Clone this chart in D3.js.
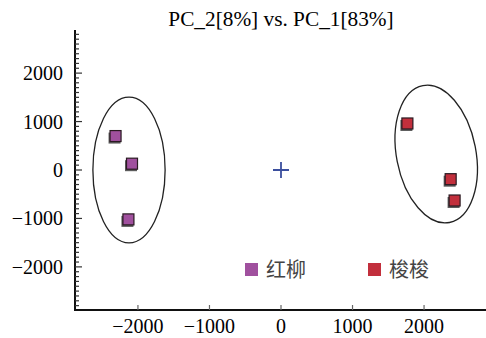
<!DOCTYPE html>
<html>
<head>
<meta charset="utf-8">
<script src="https://cdn.jsdelivr.net/npm/d3@7"></script>
<style>
  body { margin: 0; background: #fff; }
  svg { display: block; }
</style>
</head>
<body>
<div id="chart"></div>
<script>
const title = 'PC_2[8%] vs. PC_1[83%]';
const groups = ['红柳', '梭梭'];
const groupColors = ['#a0509e', '#c22f3c'];
const pc1 = [-2320, -2090, -2140, 1760, 2365, 2420];
const pc2 = [690, 120, -1030, 950, -200, -640];
const pointGroup = [0, 0, 0, 1, 1, 1];
const xTicks = [-2000, -1000, 0, 1000, 2000];
const yTicks = [-2000, -1000, 0, 1000, 2000];
// confidence ellipses: centre, radii (data units), tilt (deg)
const ellipseCx = [-2125, 2170];
const ellipseCy = [0, 330];
const ellipseRx = [505, 555];
const ellipseRy = [1505, 1440];
const ellipseTilt = [0, -11];

const width = 486, height = 338;
const x = d3.scaleLinear().domain([-2880, 2880]).range([75, 487]);
const y = d3.scaleLinear().domain([-2890, 2890]).range([310, 30]);

const svg = d3.select('#chart').append('svg')
  .attr('width', width).attr('height', height)
  .attr('font-family', '"Liberation Serif", "DejaVu Serif", serif');

const fmt = d => (d < 0 ? '\u2212' + Math.abs(d) : String(d));

// Title
svg.append('text')
  .attr('x', x(0)).attr('y', 26)
  .attr('text-anchor', 'middle')
  .attr('font-size', 21.3)
  .text(title);

// Ellipses
ellipseCx.forEach((cx, i) => {
  const px = x(cx), py = y(ellipseCy[i]);
  svg.append('ellipse')
    .attr('cx', px).attr('cy', py)
    .attr('rx', x(ellipseRx[i]) - x(0))
    .attr('ry', y(0) - y(ellipseRy[i]))
    .attr('transform', `rotate(${ellipseTilt[i]},${px},${py})`)
    .attr('fill', 'none')
    .attr('stroke', '#222')
    .attr('stroke-width', 1.3);
});

// Origin cross
svg.append('path')
  .attr('d', `M${x(0) - 8},${y(0)}H${x(0) + 8}M${x(0)},${y(0) - 8}V${y(0) + 8}`)
  .attr('stroke', '#3b4f9e')
  .attr('stroke-width', 1.8);

// Y axis with minor ticks
const yAxis = svg.append('g').attr('transform', `translate(${x.range()[0]},0)`);
yAxis.append('line')
  .attr('y1', y.range()[1]).attr('y2', y.range()[0])
  .attr('stroke', '#111').attr('stroke-width', 2);
yAxis.selectAll('.minor')
  .data(d3.range(-2800, 2801, 100))
  .join('line')
  .attr('y1', d => y(d)).attr('y2', d => y(d))
  .attr('x1', 0)
  .attr('x2', d => (d % 1000 === 0 ? 7 : 4))
  .attr('stroke', '#333').attr('stroke-width', 1.2);
yAxis.selectAll('.lab')
  .data(yTicks)
  .join('text')
  .attr('x', -12).attr('y', d => y(d))
  .attr('dy', '0.35em')
  .attr('text-anchor', 'end')
  .attr('font-size', 20)
  .text(fmt);

// X axis
const xAxis = svg.append('g').attr('transform', `translate(0,${y.range()[0]})`);
xAxis.append('line')
  .attr('x1', x.range()[0] - 1).attr('x2', x.range()[1])
  .attr('stroke', '#111').attr('stroke-width', 2);
xAxis.selectAll('.tk')
  .data(xTicks)
  .join('line')
  .attr('x1', d => x(d)).attr('x2', d => x(d))
  .attr('y1', 0).attr('y2', -5)
  .attr('stroke', '#666').attr('stroke-width', 1.2);
xAxis.selectAll('.lab')
  .data(xTicks)
  .join('text')
  .attr('x', d => x(d)).attr('y', 23)
  .attr('text-anchor', 'middle')
  .attr('font-size', 20)
  .text(fmt);

// Points (square markers with shadow)
const pts = svg.append('g');
pc1.forEach((v, i) => {
  const px = x(v), py = y(pc2[i]);
  pts.append('rect')
    .attr('x', px - 6.5).attr('y', py - 4)
    .attr('width', 12).attr('height', 11)
    .attr('fill', '#333').attr('opacity', 0.8);
  pts.append('rect')
    .attr('x', px - 5).attr('y', py - 6)
    .attr('width', 11).attr('height', 11)
    .attr('fill', groupColors[pointGroup[i]])
    .attr('stroke', '#2a1a22').attr('stroke-width', 1.2);
});

// Legend
const legendX = [245, 368];
groups.forEach((g, i) => {
  svg.append('rect')
    .attr('x', legendX[i]).attr('y', 263)
    .attr('width', 13).attr('height', 13)
    .attr('fill', groupColors[i]);
  svg.append('text')
    .attr('x', legendX[i] + 21).attr('y', 277)
    .attr('font-size', 20)
    .attr('font-family', '"Noto Sans CJK SC", sans-serif')
    .attr('fill', '#444')
    .text(g);
});
</script>
</body>
</html>
